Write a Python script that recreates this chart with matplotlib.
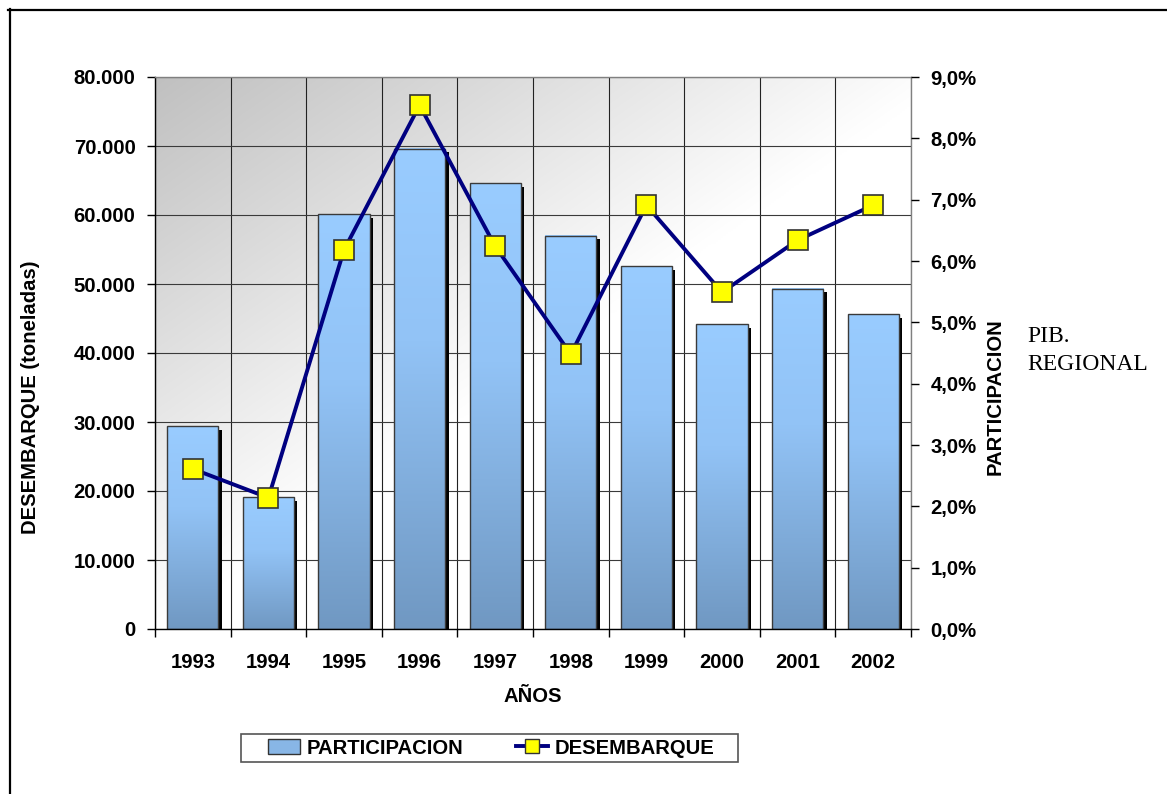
import numpy as np
import matplotlib
matplotlib.use("Agg")
import matplotlib.pyplot as plt
from matplotlib.colors import LinearSegmentedColormap
from matplotlib.transforms import ScaledTranslation
from matplotlib.patches import Rectangle, Patch
from matplotlib.lines import Line2D
from matplotlib.ticker import FuncFormatter, FixedLocator

# ---- data ----
years = ["1993", "1994", "1995", "1996", "1997", "1998", "1999", "2000", "2001", "2002"]
participacion = [29400, 19100, 60100, 69600, 64600, 57000, 52600, 44200, 49300, 45650]
desembarque = [2.61, 2.14, 6.18, 8.54, 6.24, 4.48, 6.91, 5.49, 6.34, 6.91]
left_ticks = [0, 10000, 20000, 30000, 40000, 50000, 60000, 70000, 80000]
right_ticks = [0, 1, 2, 3, 4, 5, 6, 7, 8, 9]

W, H = 1167, 794
plt.rcParams['font.family'] = ['Liberation Sans', 'DejaVu Sans']
FS = 14.6

fig = plt.figure(figsize=(W / 100, H / 100), dpi=100)
fig.patch.set_facecolor('white')
ax = fig.add_axes([155 / W, 1 - 629 / H, (911 - 155) / W, (629 - 77) / H])
ax.set_xlim(0, len(years))
ax.set_ylim(0, 80000)

# background gradient (diagonal, gray top-left to white)
gx, gy = np.meshgrid(np.linspace(0, 1, 300), np.linspace(0, 1, 300))
t = np.clip(gx * 0.95 + gy * 1.0, 0, 1)
bg = (192 + 63 * t) / 255.0
ax.imshow(np.dstack([bg, bg, bg]), extent=(0, 1, 0, 1), transform=ax.transAxes,
          aspect='auto', origin='upper', zorder=0, interpolation='bilinear')
ax.patch.set_visible(False)

# grid
ax.set_axisbelow(True)
ax.yaxis.grid(True, color='#3a3a3a', lw=0.8, zorder=0.5)
ax.xaxis.grid(True, which='minor', color='#222222', lw=0.8, zorder=0.5)

x = np.arange(len(years)) + 0.5
bw = 0.675

# shadows
off = ScaledTranslation(3.5 / 100, -3.5 / 100, fig.dpi_scale_trans)
shadow = ax.bar(x, participacion, width=bw, color='black', zorder=1.8, linewidth=0)
for p in shadow:
    p.set_transform(ax.transData + off)

# gradient fill bars
cmap = LinearSegmentedColormap.from_list(
    'bar', [(0.0, '#7098C2'), (0.6, '#92C3F6'), (1.0, '#99CCFF')])
grad = np.linspace(0, 1, 256).reshape(-1, 1)
for xi, h in zip(x, participacion):
    ax.imshow(grad, extent=(xi - bw / 2, xi + bw / 2, 0, h), aspect='auto',
              origin='lower', cmap=cmap, zorder=2, interpolation='bilinear')
ax.bar(x, participacion, width=bw, facecolor='none', edgecolor='#3a3a3a',
       linewidth=1.0, zorder=2.1)
ax.set_xlim(0, len(years))
ax.set_ylim(0, 80000)

# axes styling
ax.set_yticks(left_ticks)
ax.yaxis.set_major_formatter(FuncFormatter(lambda v, p: "0" if v == 0 else f"{int(v):,}".replace(",", ".")))
ax.set_xticks(x)
ax.set_xticklabels(years)
ax.xaxis.set_minor_locator(FixedLocator(np.arange(0, len(years) + 1)))
ax.tick_params(axis='x', which='major', length=0, pad=17)
ax.tick_params(axis='x', which='minor', length=6, width=1, color='black', direction='out')
ax.tick_params(axis='y', length=6, width=1, pad=8, direction='out')
for lab in ax.get_xticklabels() + ax.get_yticklabels():
    lab.set_fontsize(FS)
    lab.set_fontweight('bold')
ax.spines['left'].set_color('black')
ax.spines['bottom'].set_color('black')
ax.spines['top'].set_color('#808080')
ax.spines['right'].set_color('#808080')
for s in ax.spines.values():
    s.set_linewidth(1.0)
    s.set_zorder(3)

ax.set_xlabel("AÑOS", fontsize=FS, fontweight='bold', labelpad=11)
ax.set_ylabel("DESEMBARQUE (toneladas)", fontsize=FS, fontweight='bold')
ax.yaxis.set_label_coords(31 / W, 0.5, transform=fig.transFigure)
ax.yaxis.label.set_verticalalignment('center')

# line on secondary axis
ax2 = ax.twinx()
ax2.set_ylim(0, 9)
ax2.set_xlim(0, len(years))
ax2.plot(x, desembarque, color='#000080', lw=2.8, marker='s', ms=14.5,
         mfc='#FFFF00', mec='#333333', mew=1.2, zorder=5, clip_on=False)
ax2.set_yticks(right_ticks)
ax2.yaxis.set_major_formatter(FuncFormatter(lambda v, p: f"{v:.1f}%".replace(".", ",")))
ax2.tick_params(axis='y', length=6, width=1, pad=8, direction='out')
for lab in ax2.get_yticklabels():
    lab.set_fontsize(FS)
    lab.set_fontweight('bold')
for s in ax2.spines.values():
    s.set_visible(False)
ax2.set_ylabel("PARTICIPACION", fontsize=FS, fontweight='bold')
ax2.yaxis.set_label_coords(995 / W, 0.5, transform=fig.transFigure)
ax2.yaxis.label.set_verticalalignment('center')

# side note
fig.text(1027 / W, 1 - 342 / H, "PIB.", family='Liberation Serif', fontsize=17, va='baseline')
fig.text(1027 / W, 1 - 370 / H, "REGIONAL", family='Liberation Serif', fontsize=17, va='baseline')

# legend
fig.add_artist(Rectangle((241 / W, 1 - 762 / H), (738 - 241) / W, (762 - 734) / H,
                         transform=fig.transFigure, facecolor='white',
                         edgecolor='#555555', lw=1.2, zorder=4))
handles = [Patch(facecolor='#88B6E6', edgecolor='#333333', lw=1.0),
           Line2D([], [], color='#000080', lw=2.8, marker='s', ms=9.5,
                  mfc='#FFFF00', mec='#333333', mew=1.0)]
leg = fig.legend(handles, ["PARTICIPACION", "DESEMBARQUE"], loc='center',
                 bbox_to_anchor=(491 / W, 1 - 748 / H), ncol=2, frameon=False,
                 prop={'size': FS, 'weight': 'bold'}, handlelength=1.6,
                 handleheight=0.75, handletextpad=0.3, columnspacing=2.6,
                 borderpad=0.1)
leg.set_zorder(5)

# page border lines
fig.add_artist(Line2D([8 / W, 1], [1 - 10 / H, 1 - 10 / H], transform=fig.transFigure,
                      color='black', lw=1.6))
fig.add_artist(Line2D([10 / W, 10 / W], [0, 1 - 9 / H], transform=fig.transFigure,
                      color='black', lw=1.6))

fig.savefig("out.png", dpi=100)
